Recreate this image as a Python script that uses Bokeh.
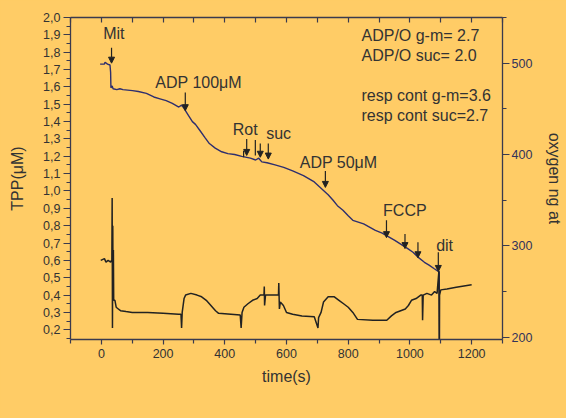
from bokeh.plotting import figure
from bokeh.models import (Range1d, LinearAxis, FixedTicker, CustomJSTickFormatter,
                          ColumnDataSource, Arrow, NormalHead)
from bokeh.core.properties import value
from bokeh.embed import file_html
from bokeh.resources import INLINE

# ---------------- data ----------------
# oxygen electrode trace (right axis, ng at)
oxy_t = [-4, 10, 12, 20, 28, 30, 31, 35, 38, 50, 60, 70, 101, 120, 146, 170, 190, 210, 230,
         251, 260, 267, 280, 295, 305, 320, 337, 350, 369, 390, 410, 432, 455, 483, 500, 510,
         520, 537, 560, 591, 620, 655, 690, 719, 735, 751, 765, 783, 800, 815, 850, 888, 910,
         951, 970, 993, 1010, 1025, 1047, 1062, 1079, 1092, 1095, 1096]
oxy_v = [499, 499, 501, 499, 498, 490, 473, 475, 472, 471, 472, 471, 470, 469, 467, 463, 461, 459, 456,
         452, 454, 451, 444, 436, 433, 426, 418, 412, 407, 403, 401, 400, 398, 396, 394, 396,
         392, 391, 389, 386, 382, 377, 370, 361, 356, 350, 344, 339, 333, 328, 324, 317, 314,
         306, 302, 297, 293, 288, 282, 279, 275, 272, 271, 180]

# TPP electrode trace (left axis, uM)
tpp_t = [-2, 10, 15, 22, 30, 33, 34, 35, 36, 37, 38, 39, 40, 44, 48, 55, 62, 80, 100, 150, 200,
         250, 258, 260, 262, 268, 273, 290, 310, 325, 340, 355, 370, 380, 420, 450, 453, 456,
         462, 475, 490, 505, 515, 527, 528, 529, 532, 560, 574, 575, 577, 580, 590, 600, 620,
         650, 690, 702, 704, 712, 720, 735, 755, 770, 785, 800, 815, 830, 880, 925, 940, 955,
         970, 985, 995, 1005, 1020, 1035, 1040, 1041, 1043, 1055, 1070, 1080, 1088, 1094, 1095,
         1096, 1100, 1120, 1150, 1165, 1200]
tpp_v = [0.60, 0.61, 0.59, 0.60, 0.59, 0.60, 0.60, 0.96, 0.21, 0.80, 0.40, 0.66, 0.37, 0.37, 0.33,
         0.32, 0.31, 0.305, 0.30, 0.30, 0.295, 0.29, 0.29, 0.21, 0.30, 0.38, 0.40, 0.41, 0.40,
         0.39, 0.37, 0.34, 0.31, 0.295, 0.29, 0.285, 0.21, 0.30, 0.33, 0.35, 0.37, 0.38, 0.40,
         0.40, 0.45, 0.34, 0.40, 0.40, 0.40, 0.47, 0.32, 0.36, 0.34, 0.30, 0.29, 0.28, 0.275,
         0.21, 0.27, 0.30, 0.36, 0.39, 0.39, 0.37, 0.35, 0.33, 0.30, 0.26, 0.255, 0.255, 0.28,
         0.30, 0.31, 0.32, 0.34, 0.37, 0.38, 0.40, 0.40, 0.255, 0.40, 0.41, 0.40, 0.42, 0.41,
         0.54, 0.10, 0.40, 0.43, 0.435, 0.445, 0.45, 0.46]

# event labels (placed on the oxygen scale)
event_labels = ["Mit", "ADP 100μM", "Rot", "suc", "ADP 50μM", "FCCP", "dit"]
event_label_t = [6, 175, 426, 534, 643, 913, 1085]
event_label_o = [532, 479, 427, 423, 391, 339, 300]

# addition arrows (time, start, end on oxygen scale)
arrow_t = [33, 272, 471, 515, 541, 726, 924, 984, 1026, 1092]
arrow_o0 = [517, 468, 417, 412, 412, 382, 328, 313, 304, 293]
arrow_o1 = [500, 448, 399, 397, 395, 364, 309, 297, 287, 272]
mark_t = [461, 499]
mark_o0 = [404, 416]
mark_o1 = [397, 399]

stats_text = ["ADP/O g-m= 2.7", "ADP/O suc= 2.0", "resp cont g-m=3.6", "resp cont suc=2.7"]
stats_t = [843, 843, 843, 843]
stats_o = [530, 508, 465, 443]

x_major = [0, 200, 400, 600, 800, 1000, 1200]
x_minor = [-100, 100, 300, 500, 700, 900, 1100, 1300]
x_top = [-100, 0, 100, 200, 300, 400, 500, 600, 700, 800, 900, 1000, 1100, 1200, 1300]
y_major = [0.2, 0.3, 0.4, 0.5, 0.6, 0.7, 0.8, 0.9, 1.0, 1.1, 1.2, 1.3, 1.4, 1.5, 1.6, 1.7,
           1.8, 1.9, 2.0]
y_minor = [0.15, 0.25, 0.35, 0.45, 0.55, 0.65, 0.75, 0.85, 0.95, 1.05, 1.15, 1.25, 1.35,
           1.45, 1.55, 1.65, 1.75, 1.85, 1.95]
o_major = [200, 300, 400, 500]
o_minor = [250, 350, 450, 550]

# ---------------- styling ----------------
BG = "#FFCC66"
AXC = "#3A3A4E"
TXT = "#333333"
FONT = "Liberation Sans"

p = figure(width=566, height=418, x_range=Range1d(-100, 1300), y_range=Range1d(0.144, 2.0),
           output_backend="svg", toolbar_location=None,
           min_border_left=70, min_border_right=58, min_border_top=17, min_border_bottom=79)
p.extra_y_ranges = {"oxy": Range1d(197.5, 550)}
p.background_fill_color = BG
p.border_fill_color = BG
p.outline_line_color = None
p.grid.visible = False


def style_axis(ax):
    ax.axis_line_color = AXC
    ax.axis_line_width = 1.3
    ax.major_tick_line_color = AXC
    ax.minor_tick_line_color = AXC
    ax.major_tick_line_width = 1.2
    ax.minor_tick_line_width = 1.2
    ax.major_label_text_font = FONT
    ax.major_label_text_color = TXT
    ax.major_label_text_font_size = "12.5px"
    ax.axis_label_text_font = FONT
    ax.axis_label_text_font_style = "normal"
    ax.axis_label_text_font_size = "16px"
    ax.axis_label_text_color = TXT


# left axis
ly = p.yaxis[0]
style_axis(ly)
ly.ticker = FixedTicker(ticks=y_major, minor_ticks=y_minor)
ly.formatter = CustomJSTickFormatter(code="return tick.toFixed(1).replace('.', ',');")
ly.major_tick_out = 7
ly.major_tick_in = 0
ly.minor_tick_out = 4
ly.minor_tick_in = 0
ly.major_label_standoff = 3
ly.axis_label = "TPP(μM)"
ly.axis_label_standoff = 14

# bottom axis
bx = p.xaxis[0]
style_axis(bx)
bx.ticker = FixedTicker(ticks=x_major, minor_ticks=x_minor)
bx.major_tick_out = 5
bx.major_tick_in = 0
bx.minor_tick_out = 4
bx.minor_tick_in = 0
bx.major_label_standoff = 4
bx.axis_label = "time(s)"
bx.axis_label_standoff = 7

# top axis (frame line with inward ticks, no labels)
tx = LinearAxis(ticker=FixedTicker(ticks=x_top, minor_ticks=[]),
                formatter=CustomJSTickFormatter(code="return '';"))
style_axis(tx)
tx.major_tick_in = 5
tx.major_tick_out = 0
tx.major_label_standoff = 0
p.add_layout(tx, "above")

# right axis (oxygen)
ry = LinearAxis(y_range_name="oxy", ticker=FixedTicker(ticks=o_major, minor_ticks=o_minor))
style_axis(ry)
ry.major_label_text_color = "#33335A"
ry.major_tick_out = 7
ry.major_tick_in = 0
ry.minor_tick_out = 4
ry.minor_tick_in = 0
ry.major_label_standoff = 2
ry.axis_label = "oxygen ng at"
ry.axis_label_standoff = 11
p.add_layout(ry, "right")

# traces
p.line(oxy_t, oxy_v, y_range_name="oxy", line_color="#2E2E6E", line_width=1.4)
p.line(tpp_t, tpp_v, line_color="#222222", line_width=1.5)

# addition arrows
asrc = ColumnDataSource(dict(x=arrow_t, y0=arrow_o0, y1=arrow_o1))
p.add_layout(Arrow(end=NormalHead(size=6, fill_color="#222222", line_color="#222222", line_width=1),
                   x_start="x", y_start="y0", x_end="x", y_end="y1", source=asrc,
                   y_range_name="oxy", line_color="#222222", line_width=1.2))
p.segment(x0=mark_t, y0=mark_o0, x1=mark_t, y1=mark_o1, y_range_name="oxy",
          line_color="#222222", line_width=1.2)

# event labels
p.text(x=event_label_t, y=event_label_o, text=event_labels, y_range_name="oxy",
       text_font=value(FONT), text_font_size="16px", text_color=TXT,
       text_align="left", text_baseline="middle")

# ratio texts
p.text(x=stats_t, y=stats_o, text=stats_text, y_range_name="oxy",
       text_font=value(FONT), text_font_size="16px", text_color=TXT,
       text_align="left", text_baseline="middle")

html = file_html(p, INLINE)
html = html.replace("</head>", "<style>html,body{background:%s;margin:0;}</style></head>" % BG, 1)
open("out.html", "w").write(html)
